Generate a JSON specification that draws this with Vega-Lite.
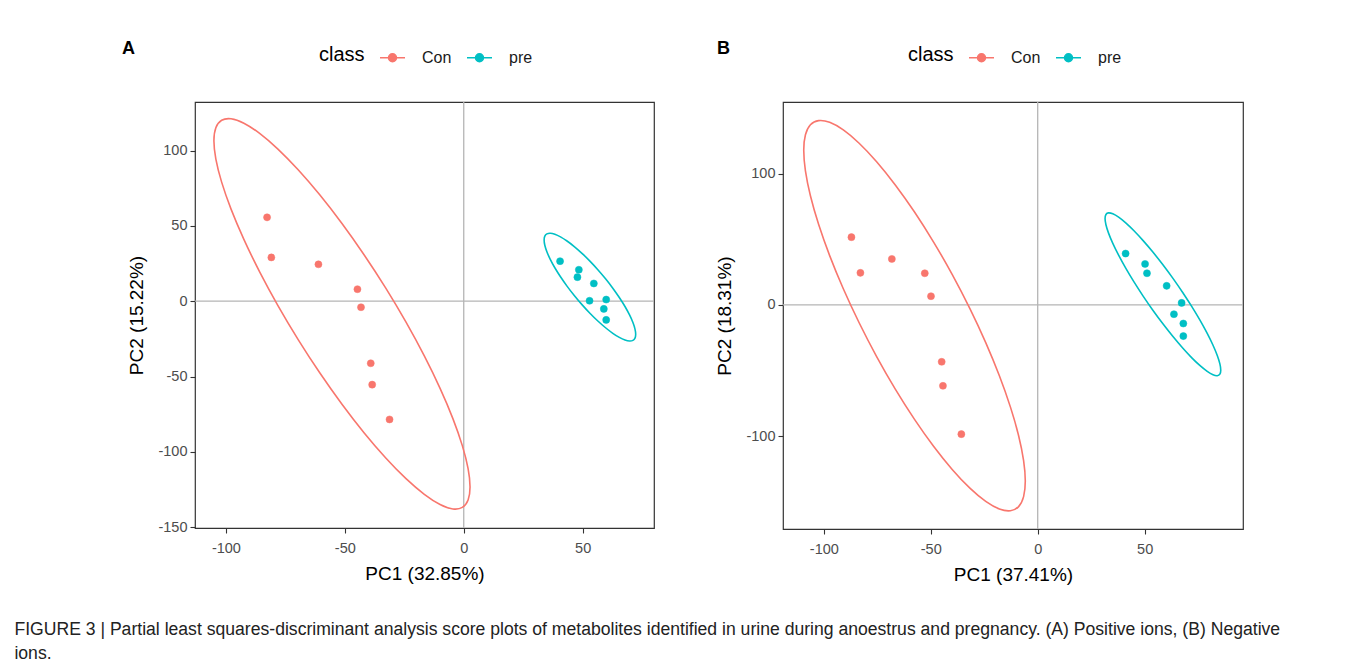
{
  "$schema": "https://vega.github.io/schema/vega-lite/v6.json",
  "background": "white",
  "padding": {"left": 14, "top": 39, "right": 0, "bottom": 0},
  "spacing": 59,
  "title": {
    "text": ["FIGURE 3 | Partial least squares-discriminant analysis score plots of metabolites identified in urine during anoestrus and pregnancy. (A) Positive ions, (B) Negative", "ions."],
    "orient": "bottom", "anchor": "start", "frame": "bounds", "dx": -107, "offset": 36,
    "font": "Liberation Sans", "fontSize": 17.6, "fontWeight": "normal", "color": "#222222", "lineHeight": 24
  },
  "datasets": {
    "points": [
      {"panel": "A", "class": "Con", "x": -82.7, "y": 55.7},
      {"panel": "A", "class": "Con", "x": -80.9, "y": 29.1},
      {"panel": "A", "class": "Con", "x": -61.1, "y": 24.5},
      {"panel": "A", "class": "Con", "x": -44.7, "y": 8.0},
      {"panel": "A", "class": "Con", "x": -43.2, "y": -4.0},
      {"panel": "A", "class": "Con", "x": -39.1, "y": -41.2},
      {"panel": "A", "class": "Con", "x": -38.5, "y": -55.4},
      {"panel": "A", "class": "Con", "x": -31.2, "y": -78.5},
      {"panel": "A", "class": "pre", "x": 40.5, "y": 26.6},
      {"panel": "A", "class": "pre", "x": 48.4, "y": 20.9},
      {"panel": "A", "class": "pre", "x": 47.8, "y": 16.0},
      {"panel": "A", "class": "pre", "x": 54.7, "y": 11.8},
      {"panel": "A", "class": "pre", "x": 52.9, "y": 0.3},
      {"panel": "A", "class": "pre", "x": 59.9, "y": 1.1},
      {"panel": "A", "class": "pre", "x": 58.9, "y": -5.1},
      {"panel": "A", "class": "pre", "x": 59.9, "y": -12.4},
      {"panel": "B", "class": "Con", "x": -87.1, "y": 51.6},
      {"panel": "B", "class": "Con", "x": -82.9, "y": 24.4},
      {"panel": "B", "class": "Con", "x": -68.2, "y": 35.0},
      {"panel": "B", "class": "Con", "x": -52.8, "y": 24.1},
      {"panel": "B", "class": "Con", "x": -49.9, "y": 6.6},
      {"panel": "B", "class": "Con", "x": -44.9, "y": -43.4},
      {"panel": "B", "class": "Con", "x": -44.3, "y": -61.7},
      {"panel": "B", "class": "Con", "x": -35.7, "y": -98.5},
      {"panel": "B", "class": "pre", "x": 41.1, "y": 39.1},
      {"panel": "B", "class": "pre", "x": 50.2, "y": 31.2},
      {"panel": "B", "class": "pre", "x": 51.1, "y": 24.1},
      {"panel": "B", "class": "pre", "x": 60.3, "y": 14.5},
      {"panel": "B", "class": "pre", "x": 67.3, "y": 1.5},
      {"panel": "B", "class": "pre", "x": 63.7, "y": -7.1},
      {"panel": "B", "class": "pre", "x": 68.1, "y": -14.2},
      {"panel": "B", "class": "pre", "x": 68.1, "y": -23.8}
    ],
    "ellipses": [
      {"panel": "A", "class": "Con", "k": 0, "x": 2.65, "y": -123.35},
      {"panel": "A", "class": "Con", "k": 1, "x": 1.83, "y": -111.18},
      {"panel": "A", "class": "Con", "k": 2, "x": -0.6, "y": -95.9},
      {"panel": "A", "class": "Con", "k": 3, "x": -4.56, "y": -77.95},
      {"panel": "A", "class": "Con", "k": 4, "x": -9.95, "y": -57.88},
      {"panel": "A", "class": "Con", "k": 5, "x": -16.58, "y": -36.33},
      {"panel": "A", "class": "Con", "k": 6, "x": -24.27, "y": -13.92},
      {"panel": "A", "class": "Con", "k": 7, "x": -32.78, "y": 8.67},
      {"panel": "A", "class": "Con", "k": 8, "x": -41.85, "y": 30.73},
      {"panel": "A", "class": "Con", "k": 9, "x": -51.2, "y": 51.6},
      {"panel": "A", "class": "Con", "k": 10, "x": -60.55, "y": 70.65},
      {"panel": "A", "class": "Con", "k": 11, "x": -69.62, "y": 87.29},
      {"panel": "A", "class": "Con", "k": 12, "x": -78.13, "y": 101.04},
      {"panel": "A", "class": "Con", "k": 13, "x": -85.82, "y": 111.45},
      {"panel": "A", "class": "Con", "k": 14, "x": -92.45, "y": 118.22},
      {"panel": "A", "class": "Con", "k": 15, "x": -97.84, "y": 121.15},
      {"panel": "A", "class": "Con", "k": 16, "x": -101.8, "y": 120.14},
      {"panel": "A", "class": "Con", "k": 17, "x": -104.23, "y": 115.22},
      {"panel": "A", "class": "Con", "k": 18, "x": -105.05, "y": 106.55},
      {"panel": "A", "class": "Con", "k": 19, "x": -104.23, "y": 94.38},
      {"panel": "A", "class": "Con", "k": 20, "x": -101.8, "y": 79.1},
      {"panel": "A", "class": "Con", "k": 21, "x": -97.84, "y": 61.15},
      {"panel": "A", "class": "Con", "k": 22, "x": -92.45, "y": 41.08},
      {"panel": "A", "class": "Con", "k": 23, "x": -85.82, "y": 19.53},
      {"panel": "A", "class": "Con", "k": 24, "x": -78.13, "y": -2.88},
      {"panel": "A", "class": "Con", "k": 25, "x": -69.62, "y": -25.47},
      {"panel": "A", "class": "Con", "k": 26, "x": -60.55, "y": -47.53},
      {"panel": "A", "class": "Con", "k": 27, "x": -51.2, "y": -68.4},
      {"panel": "A", "class": "Con", "k": 28, "x": -41.85, "y": -87.45},
      {"panel": "A", "class": "Con", "k": 29, "x": -32.78, "y": -104.09},
      {"panel": "A", "class": "Con", "k": 30, "x": -24.27, "y": -117.84},
      {"panel": "A", "class": "Con", "k": 31, "x": -16.58, "y": -128.25},
      {"panel": "A", "class": "Con", "k": 32, "x": -9.95, "y": -135.02},
      {"panel": "A", "class": "Con", "k": 33, "x": -4.56, "y": -137.95},
      {"panel": "A", "class": "Con", "k": 34, "x": -0.6, "y": -136.94},
      {"panel": "A", "class": "Con", "k": 35, "x": 1.83, "y": -132.02},
      {"panel": "A", "class": "pre", "k": 0, "x": 72.3, "y": -21.97},
      {"panel": "A", "class": "pre", "k": 1, "x": 72.01, "y": -18.49},
      {"panel": "A", "class": "pre", "k": 2, "x": 71.14, "y": -14.16},
      {"panel": "A", "class": "pre", "k": 3, "x": 69.72, "y": -9.12},
      {"panel": "A", "class": "pre", "k": 4, "x": 67.8, "y": -3.52},
      {"panel": "A", "class": "pre", "k": 5, "x": 65.42, "y": 2.47},
      {"panel": "A", "class": "pre", "k": 6, "x": 62.68, "y": 8.67},
      {"panel": "A", "class": "pre", "k": 7, "x": 59.63, "y": 14.9},
      {"panel": "A", "class": "pre", "k": 8, "x": 56.39, "y": 20.95},
      {"panel": "A", "class": "pre", "k": 9, "x": 53.05, "y": 26.65},
      {"panel": "A", "class": "pre", "k": 10, "x": 49.71, "y": 31.83},
      {"panel": "A", "class": "pre", "k": 11, "x": 46.47, "y": 36.32},
      {"panel": "A", "class": "pre", "k": 12, "x": 43.42, "y": 39.99},
      {"panel": "A", "class": "pre", "k": 13, "x": 40.68, "y": 42.73},
      {"panel": "A", "class": "pre", "k": 14, "x": 38.3, "y": 44.46},
      {"panel": "A", "class": "pre", "k": 15, "x": 36.38, "y": 45.12},
      {"panel": "A", "class": "pre", "k": 16, "x": 34.96, "y": 44.7},
      {"panel": "A", "class": "pre", "k": 17, "x": 34.09, "y": 43.19},
      {"panel": "A", "class": "pre", "k": 18, "x": 33.8, "y": 40.67},
      {"panel": "A", "class": "pre", "k": 19, "x": 34.09, "y": 37.19},
      {"panel": "A", "class": "pre", "k": 20, "x": 34.96, "y": 32.86},
      {"panel": "A", "class": "pre", "k": 21, "x": 36.38, "y": 27.82},
      {"panel": "A", "class": "pre", "k": 22, "x": 38.3, "y": 22.22},
      {"panel": "A", "class": "pre", "k": 23, "x": 40.68, "y": 16.23},
      {"panel": "A", "class": "pre", "k": 24, "x": 43.42, "y": 10.03},
      {"panel": "A", "class": "pre", "k": 25, "x": 46.47, "y": 3.8},
      {"panel": "A", "class": "pre", "k": 26, "x": 49.71, "y": -2.25},
      {"panel": "A", "class": "pre", "k": 27, "x": 53.05, "y": -7.95},
      {"panel": "A", "class": "pre", "k": 28, "x": 56.39, "y": -13.13},
      {"panel": "A", "class": "pre", "k": 29, "x": 59.63, "y": -17.62},
      {"panel": "A", "class": "pre", "k": 30, "x": 62.68, "y": -21.29},
      {"panel": "A", "class": "pre", "k": 31, "x": 65.42, "y": -24.03},
      {"panel": "A", "class": "pre", "k": 32, "x": 67.8, "y": -25.76},
      {"panel": "A", "class": "pre", "k": 33, "x": 69.72, "y": -26.42},
      {"panel": "A", "class": "pre", "k": 34, "x": 71.14, "y": -26.0},
      {"panel": "A", "class": "pre", "k": 35, "x": 72.01, "y": -24.49},
      {"panel": "B", "class": "Con", "k": 0, "x": -5.8, "y": -134.31},
      {"panel": "B", "class": "Con", "k": 1, "x": -6.59, "y": -118.68},
      {"panel": "B", "class": "Con", "k": 2, "x": -8.92, "y": -99.69},
      {"panel": "B", "class": "Con", "k": 3, "x": -12.74, "y": -77.92},
      {"panel": "B", "class": "Con", "k": 4, "x": -17.92, "y": -54.03},
      {"panel": "B", "class": "Con", "k": 5, "x": -24.3, "y": -28.77},
      {"panel": "B", "class": "Con", "k": 6, "x": -31.7, "y": -2.87},
      {"panel": "B", "class": "Con", "k": 7, "x": -39.88, "y": 22.88},
      {"panel": "B", "class": "Con", "k": 8, "x": -48.61, "y": 47.67},
      {"panel": "B", "class": "Con", "k": 9, "x": -57.6, "y": 70.75},
      {"panel": "B", "class": "Con", "k": 10, "x": -66.59, "y": 91.43},
      {"panel": "B", "class": "Con", "k": 11, "x": -75.32, "y": 109.1},
      {"panel": "B", "class": "Con", "k": 12, "x": -83.5, "y": 123.19},
      {"panel": "B", "class": "Con", "k": 13, "x": -90.9, "y": 133.29},
      {"panel": "B", "class": "Con", "k": 14, "x": -97.28, "y": 139.09},
      {"panel": "B", "class": "Con", "k": 15, "x": -102.46, "y": 140.42},
      {"panel": "B", "class": "Con", "k": 16, "x": -106.28, "y": 137.23},
      {"panel": "B", "class": "Con", "k": 17, "x": -108.61, "y": 129.6},
      {"panel": "B", "class": "Con", "k": 18, "x": -109.4, "y": 117.81},
      {"panel": "B", "class": "Con", "k": 19, "x": -108.61, "y": 102.18},
      {"panel": "B", "class": "Con", "k": 20, "x": -106.28, "y": 83.19},
      {"panel": "B", "class": "Con", "k": 21, "x": -102.46, "y": 61.42},
      {"panel": "B", "class": "Con", "k": 22, "x": -97.28, "y": 37.53},
      {"panel": "B", "class": "Con", "k": 23, "x": -90.9, "y": 12.27},
      {"panel": "B", "class": "Con", "k": 24, "x": -83.5, "y": -13.63},
      {"panel": "B", "class": "Con", "k": 25, "x": -75.32, "y": -39.38},
      {"panel": "B", "class": "Con", "k": 26, "x": -66.59, "y": -64.17},
      {"panel": "B", "class": "Con", "k": 27, "x": -57.6, "y": -87.25},
      {"panel": "B", "class": "Con", "k": 28, "x": -48.61, "y": -107.93},
      {"panel": "B", "class": "Con", "k": 29, "x": -39.88, "y": -125.6},
      {"panel": "B", "class": "Con", "k": 30, "x": -31.7, "y": -139.69},
      {"panel": "B", "class": "Con", "k": 31, "x": -24.3, "y": -149.79},
      {"panel": "B", "class": "Con", "k": 32, "x": -17.92, "y": -155.59},
      {"panel": "B", "class": "Con", "k": 33, "x": -12.74, "y": -156.92},
      {"panel": "B", "class": "Con", "k": 34, "x": -8.92, "y": -153.73},
      {"panel": "B", "class": "Con", "k": 35, "x": -6.59, "y": -146.1},
      {"panel": "B", "class": "pre", "k": 0, "x": 85.6, "y": -49.77},
      {"panel": "B", "class": "pre", "k": 1, "x": 85.19, "y": -44.98},
      {"panel": "B", "class": "pre", "k": 2, "x": 83.97, "y": -38.58},
      {"panel": "B", "class": "pre", "k": 3, "x": 81.98, "y": -30.77},
      {"panel": "B", "class": "pre", "k": 4, "x": 79.27, "y": -21.78},
      {"panel": "B", "class": "pre", "k": 5, "x": 75.94, "y": -11.88},
      {"panel": "B", "class": "pre", "k": 6, "x": 72.08, "y": -1.37},
      {"panel": "B", "class": "pre", "k": 7, "x": 67.8, "y": 9.42},
      {"panel": "B", "class": "pre", "k": 8, "x": 63.25, "y": 20.17},
      {"panel": "B", "class": "pre", "k": 9, "x": 58.55, "y": 30.55},
      {"panel": "B", "class": "pre", "k": 10, "x": 53.85, "y": 40.25},
      {"panel": "B", "class": "pre", "k": 11, "x": 49.3, "y": 48.96},
      {"panel": "B", "class": "pre", "k": 12, "x": 45.02, "y": 56.45},
      {"panel": "B", "class": "pre", "k": 13, "x": 41.16, "y": 62.46},
      {"panel": "B", "class": "pre", "k": 14, "x": 37.83, "y": 66.8},
      {"panel": "B", "class": "pre", "k": 15, "x": 35.12, "y": 69.37},
      {"panel": "B", "class": "pre", "k": 16, "x": 33.13, "y": 70.08},
      {"panel": "B", "class": "pre", "k": 17, "x": 31.91, "y": 68.9},
      {"panel": "B", "class": "pre", "k": 18, "x": 31.5, "y": 65.87},
      {"panel": "B", "class": "pre", "k": 19, "x": 31.91, "y": 61.08},
      {"panel": "B", "class": "pre", "k": 20, "x": 33.13, "y": 54.68},
      {"panel": "B", "class": "pre", "k": 21, "x": 35.12, "y": 46.87},
      {"panel": "B", "class": "pre", "k": 22, "x": 37.83, "y": 37.88},
      {"panel": "B", "class": "pre", "k": 23, "x": 41.16, "y": 27.98},
      {"panel": "B", "class": "pre", "k": 24, "x": 45.02, "y": 17.47},
      {"panel": "B", "class": "pre", "k": 25, "x": 49.3, "y": 6.68},
      {"panel": "B", "class": "pre", "k": 26, "x": 53.85, "y": -4.07},
      {"panel": "B", "class": "pre", "k": 27, "x": 58.55, "y": -14.45},
      {"panel": "B", "class": "pre", "k": 28, "x": 63.25, "y": -24.15},
      {"panel": "B", "class": "pre", "k": 29, "x": 67.8, "y": -32.86},
      {"panel": "B", "class": "pre", "k": 30, "x": 72.08, "y": -40.35},
      {"panel": "B", "class": "pre", "k": 31, "x": 75.94, "y": -46.36},
      {"panel": "B", "class": "pre", "k": 32, "x": 79.27, "y": -50.7},
      {"panel": "B", "class": "pre", "k": 33, "x": 81.98, "y": -53.27},
      {"panel": "B", "class": "pre", "k": 34, "x": 83.97, "y": -53.98},
      {"panel": "B", "class": "pre", "k": 35, "x": 85.19, "y": -52.8}
    ]
  },
  "hconcat": [
    {
      "width": 459, "height": 426,
      "title": {"text": "A", "anchor": "start", "frame": "group", "dx": -73, "offset": -14, "fontSize": 18, "fontWeight": "bold", "font": "Liberation Sans", "color": "#000000"},
      "layer": [
        {
          "data": {"values": [{"x": 0}]},
          "mark": {"type": "rule", "color": "#b5b5b5", "strokeWidth": 1.3},
          "encoding": {
            "x": {"field": "x", "type": "quantitative", "scale": {"domain": [-113, 80], "nice": false, "zero": false}, "axis": {"title": "PC1 (32.85%)", "values": [-100, -50, 0, 50]}}
          }
        },
        {
          "data": {"values": [{"y": 0}]},
          "mark": {"type": "rule", "color": "#b5b5b5", "strokeWidth": 1.3},
          "encoding": {
            "y": {"field": "y", "type": "quantitative", "scale": {"domain": [-150.6, 132.3], "nice": false, "zero": false}, "axis": {"title": "PC2 (15.22%)", "values": [-150, -100, -50, 0, 50, 100]}}
          }
        },
        {
          "data": {"name": "ellipses"},
          "transform": [{"filter": "datum.panel === 'A'"}],
          "mark": {"type": "line", "interpolate": "cardinal-closed", "strokeWidth": 1.6},
          "encoding": {
            "x": {"field": "x", "type": "quantitative", "scale": {"domain": [-113, 80], "nice": false, "zero": false}, "axis": {"title": "PC1 (32.85%)", "values": [-100, -50, 0, 50]}},
            "y": {"field": "y", "type": "quantitative", "scale": {"domain": [-150.6, 132.3], "nice": false, "zero": false}, "axis": {"title": "PC2 (15.22%)", "values": [-150, -100, -50, 0, 50, 100]}},
            "order": {"field": "k", "type": "quantitative"},
            "stroke": {"field": "class", "type": "nominal", "scale": {"domain": ["Con", "pre"], "range": ["#F8766D", "#00BFC4"]}, "legend": {"title": "class", "legendX": 124, "legendY": -58}}
          }
        },
        {
          "data": {"name": "points"},
          "transform": [{"filter": "datum.panel === 'A'"}],
          "mark": {"type": "point", "filled": true, "shape": "circle", "size": 50, "opacity": 1, "strokeWidth": 0.5},
          "encoding": {
            "x": {"field": "x", "type": "quantitative", "scale": {"domain": [-113, 80], "nice": false, "zero": false}, "axis": {"title": "PC1 (32.85%)", "values": [-100, -50, 0, 50]}},
            "y": {"field": "y", "type": "quantitative", "scale": {"domain": [-150.6, 132.3], "nice": false, "zero": false}, "axis": {"title": "PC2 (15.22%)", "values": [-150, -100, -50, 0, 50, 100]}},
            "fill": {"field": "class", "type": "nominal", "scale": {"domain": ["Con", "pre"], "range": ["#F8766D", "#00BFC4"]}, "legend": {"title": "class", "legendX": 124, "legendY": -58}},
            "stroke": {"field": "class", "type": "nominal", "scale": {"domain": ["Con", "pre"], "range": ["#F8766D", "#00BFC4"]}, "legend": {"title": "class", "legendX": 124, "legendY": -58}}
          }
        }
      ]
    },
    {
      "width": 460, "height": 427,
      "title": {"text": "B", "anchor": "start", "frame": "group", "dx": -66, "offset": -14, "fontSize": 18, "fontWeight": "bold", "font": "Liberation Sans", "color": "#000000"},
      "layer": [
        {
          "data": {"values": [{"x": 0}]},
          "mark": {"type": "rule", "color": "#b5b5b5", "strokeWidth": 1.3},
          "encoding": {
            "x": {"field": "x", "type": "quantitative", "scale": {"domain": [-119.1, 96], "nice": false, "zero": false}, "axis": {"title": "PC1 (37.41%)", "values": [-100, -50, 0, 50]}}
          }
        },
        {
          "data": {"values": [{"y": 0}]},
          "mark": {"type": "rule", "color": "#b5b5b5", "strokeWidth": 1.3},
          "encoding": {
            "y": {"field": "y", "type": "quantitative", "scale": {"domain": [-170.8, 154.6], "nice": false, "zero": false}, "axis": {"title": "PC2 (18.31%)", "values": [-100, 0, 100]}}
          }
        },
        {
          "data": {"name": "ellipses"},
          "transform": [{"filter": "datum.panel === 'B'"}],
          "mark": {"type": "line", "interpolate": "cardinal-closed", "strokeWidth": 1.6},
          "encoding": {
            "x": {"field": "x", "type": "quantitative", "scale": {"domain": [-119.1, 96], "nice": false, "zero": false}, "axis": {"title": "PC1 (37.41%)", "values": [-100, -50, 0, 50]}},
            "y": {"field": "y", "type": "quantitative", "scale": {"domain": [-170.8, 154.6], "nice": false, "zero": false}, "axis": {"title": "PC2 (18.31%)", "values": [-100, 0, 100]}},
            "order": {"field": "k", "type": "quantitative"},
            "stroke": {"field": "class", "type": "nominal", "scale": {"domain": ["Con", "pre"], "range": ["#F8766D", "#00BFC4"]}, "legend": {"title": "class", "legendX": 125, "legendY": -58}}
          }
        },
        {
          "data": {"name": "points"},
          "transform": [{"filter": "datum.panel === 'B'"}],
          "mark": {"type": "point", "filled": true, "shape": "circle", "size": 50, "opacity": 1, "strokeWidth": 0.5},
          "encoding": {
            "x": {"field": "x", "type": "quantitative", "scale": {"domain": [-119.1, 96], "nice": false, "zero": false}, "axis": {"title": "PC1 (37.41%)", "values": [-100, -50, 0, 50]}},
            "y": {"field": "y", "type": "quantitative", "scale": {"domain": [-170.8, 154.6], "nice": false, "zero": false}, "axis": {"title": "PC2 (18.31%)", "values": [-100, 0, 100]}},
            "fill": {"field": "class", "type": "nominal", "scale": {"domain": ["Con", "pre"], "range": ["#F8766D", "#00BFC4"]}, "legend": {"title": "class", "legendX": 125, "legendY": -58}},
            "stroke": {"field": "class", "type": "nominal", "scale": {"domain": ["Con", "pre"], "range": ["#F8766D", "#00BFC4"]}, "legend": {"title": "class", "legendX": 125, "legendY": -58}}
          }
        }
      ]
    }
  ],
  "resolve": {"scale": {"x": "independent", "y": "independent", "fill": "independent", "stroke": "independent"}, "legend": {"fill": "independent", "stroke": "independent"}},
  "config": {
    "font": "Liberation Sans",
    "view": {"stroke": "#333333", "strokeWidth": 1.2},
    "axis": {"domain": false, "grid": false, "tickColor": "#333333", "tickSize": 5, "tickWidth": 1.1, "labelFont": "Liberation Sans", "labelFontSize": 14.5, "labelColor": "#4d4d4d", "titleFont": "Liberation Sans", "titleFontSize": 19, "titleFontWeight": "normal", "titleColor": "#000000", "labelExpr": "datum.value < 0 ? '-' + abs(datum.value) : '' + datum.value"},
    "axisX": {"labelPadding": 8.5, "titlePadding": 9},
    "axisY": {"labelPadding": 3, "titlePadding": 11},
    "legend": {
      "orient": "none", "direction": "horizontal", "titleOrient": "left",
      "titleFont": "Liberation Sans", "titleFontSize": 20, "titleFontWeight": "normal", "titleColor": "#000000", "titlePadding": 14,
      "labelFont": "Liberation Sans", "labelFontSize": 16, "labelColor": "#1a1a1a", "labelOffset": 16,
      "symbolType": "M-1,0L1,0M0.32,0A0.32,0.32,0,1,1,-0.32,0A0.32,0.32,0,1,1,0.32,0Z",
      "symbolSize": 625, "symbolStrokeWidth": 1.5, "symbolOpacity": 1, "columnPadding": 12
    }
  }
}
